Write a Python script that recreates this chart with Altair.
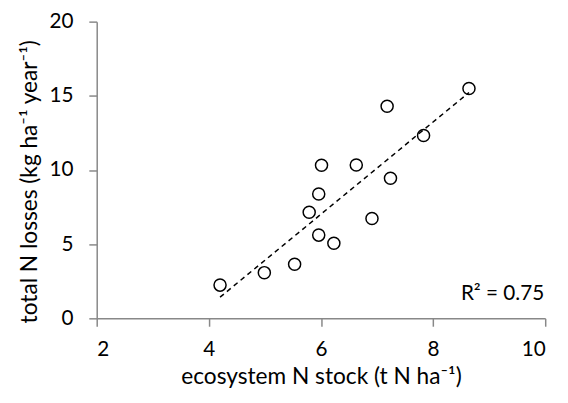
import altair as alt
import pandas as pd

n_stock = [4.20, 4.99, 5.53, 5.96, 6.23, 5.79, 5.96, 6.01, 6.63, 6.91, 7.24, 7.18, 7.83, 8.64]
n_losses = [2.24, 3.08, 3.65, 5.61, 5.06, 7.15, 8.38, 10.32, 10.34, 6.73, 9.44, 14.30, 12.32, 15.49]
r2_label = ["R² = 0.75"]

df = pd.DataFrame({"stock": n_stock, "loss": n_losses})

FONT = "Lato"
FS = 21

x_enc = alt.X("stock:Q", scale=alt.Scale(domain=[2, 10]),
              axis=alt.Axis(values=[2, 4, 6, 8, 10], format="d", title="ecosystem N stock (t N ha⁻¹)",
                            titleFontSize=23))
y_enc = alt.Y("loss:Q", scale=alt.Scale(domain=[0, 20]),
              axis=alt.Axis(values=[0, 5, 10, 15, 20], format="d", title="total N losses (kg ha⁻¹ year⁻¹)",
                            titleFontSize=23, titleAngle=270, titleAlign="center", titleBaseline="middle",
                            titleX=-68, titleY=162))

points = alt.Chart(df).mark_point(shape="circle", size=150, filled=False,
                                  stroke="black", strokeWidth=1.5, opacity=1).encode(x=x_enc, y=y_enc)

trend = alt.Chart(df).transform_regression("stock", "loss").mark_line(
    color="black", strokeDash=[5, 4], strokeWidth=1.5).encode(x="stock:Q", y="loss:Q")

r2 = alt.Chart(pd.DataFrame({"t": r2_label})).mark_text(
    align="right", baseline="alphabetic", font=FONT, fontSize=FS, color="black").encode(
    text="t:N", x=alt.value(454), y=alt.value(282))

chart = (trend + points + r2).properties(
    width=455, height=301,
    autosize=alt.AutoSizeParams(type="none"),
    padding={"left": 90, "top": 11, "right": 15, "bottom": 80},
).configure_view(stroke=None).configure_axis(
    grid=False, domainColor="#888888", domainWidth=1.5, tickColor="#888888", tickWidth=1.5,
    tickSize=8, labelFont=FONT, labelFontSize=FS, labelColor="black",
    titleFont=FONT, titleFontWeight="normal", titleColor="black",
).configure_axisY(labelPadding=16).configure_axisX(labelPadding=13, titlePadding=6)

chart.save("out.html", embed_options={"renderer": "svg", "actions": False})
